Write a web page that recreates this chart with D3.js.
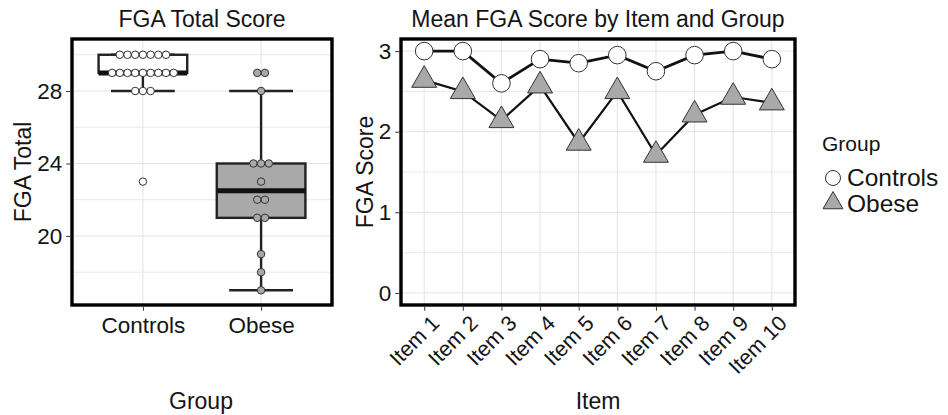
<!DOCTYPE html>
<html>
<head>
<meta charset="utf-8">
<script src="https://cdn.jsdelivr.net/npm/d3@7"></script>
<style>
  html, body { margin: 0; padding: 0; background: #fff; }
  svg { display: block; font-family: "Liberation Sans", Arial, sans-serif; }
</style>
</head>
<body>
<svg id="chart" width="948" height="415"></svg>
<script>
// ---------------- data ----------------
const groups = ["Controls", "Obese"];
const controlsScores = [30,30,30,30,30,30,30, 29,29,29,29,29,29,29,29,29, 28,28,28, 23];
const obeseScores = [29,29, 28, 24,24,24, 23, 22,22, 21,21, 19, 18, 17];
const totalTicks = [20, 24, 28];

const items = ["Item 1","Item 2","Item 3","Item 4","Item 5","Item 6","Item 7","Item 8","Item 9","Item 10"];
const controlsMeans = [3.0, 3.0, 2.6, 2.9, 2.85, 2.95, 2.75, 2.95, 3.0, 2.9];
const obeseMeans = [2.64, 2.5, 2.14, 2.57, 1.86, 2.5, 1.71, 2.21, 2.43, 2.36];
const scoreTicks = [0, 1, 2, 3];

const groupFill = { Controls: "#ffffff", Obese: "#a9a9a9" };

// ---------------- layout ----------------
const svg = d3.select("#chart");
const FS = 22.5;     // tick labels
const TFS = 23;      // titles
const L = { x0: 72, x1: 332, y0: 39, y1: 305 };
const R = { x0: 401, x1: 795, y0: 39, y1: 305 };
const gridColor = "#e3e3e3";
const txt = "#141414";

// ---------------- left panel: boxplot + dotplot ----------------
const stepL = (L.x1 - L.x0) / (groups.length - 1 + 1.2);
const xPosL = d3.scalePoint().domain(groups).range([L.x0 + 0.6 * stepL, L.x1 - 0.6 * stepL]);
const yL = d3.scaleLinear().domain([16.19, 30.87]).range([L.y1, L.y0]);

const gL = svg.append("g");
const minorL = [18, 22, 26, 30];
gL.selectAll(".gmin").data(minorL).join("line")
  .attr("x1", L.x0).attr("x2", L.x1).attr("y1", d => yL(d)).attr("y2", d => yL(d))
  .attr("stroke", gridColor).attr("stroke-width", 0.8);
gL.selectAll(".gmaj").data(totalTicks).join("line")
  .attr("x1", L.x0).attr("x2", L.x1).attr("y1", d => yL(d)).attr("y2", d => yL(d))
  .attr("stroke", gridColor).attr("stroke-width", 1);
gL.selectAll(".gx").data(groups).join("line")
  .attr("x1", d => xPosL(d)).attr("x2", d => xPosL(d)).attr("y1", L.y0).attr("y2", L.y1)
  .attr("stroke", gridColor).attr("stroke-width", 1);

const dataByGroup = { Controls: controlsScores, Obese: obeseScores };
const boxW = 0.75 * stepL;
const capW = 0.54 * stepL;
groups.forEach(g => {
  const vals = dataByGroup[g].slice().sort(d3.ascending);
  const q1 = d3.quantile(vals, 0.25), med = d3.quantile(vals, 0.5), q3 = d3.quantile(vals, 0.75);
  const iqr = q3 - q1;
  const lo = d3.min(vals.filter(v => v >= q1 - 1.5 * iqr));
  const hi = d3.max(vals.filter(v => v <= q3 + 1.5 * iqr));
  const cx = xPosL(g);
  const grp = gL.append("g");
  grp.append("line").attr("x1", cx).attr("x2", cx).attr("y1", yL(q3)).attr("y2", yL(hi))
    .attr("stroke", "#222").attr("stroke-width", 2.4);
  grp.append("line").attr("x1", cx).attr("x2", cx).attr("y1", yL(q1)).attr("y2", yL(lo))
    .attr("stroke", "#222").attr("stroke-width", 2.4);
  [lo, hi].forEach(v => grp.append("line")
    .attr("x1", cx - capW / 2).attr("x2", cx + capW / 2).attr("y1", yL(v)).attr("y2", yL(v))
    .attr("stroke", "#222").attr("stroke-width", 2.4));
  grp.append("rect").attr("x", cx - boxW / 2).attr("width", boxW)
    .attr("y", yL(q3)).attr("height", yL(q1) - yL(q3))
    .attr("fill", groupFill[g]).attr("stroke", "#222").attr("stroke-width", 2.4);
  grp.append("line").attr("x1", cx - boxW / 2).attr("x2", cx + boxW / 2)
    .attr("y1", yL(med)).attr("y2", yL(med)).attr("stroke", "#111").attr("stroke-width", 5);
  const counts = d3.rollups(vals, v => v.length, v => v);
  const dd = 7.7;
  counts.forEach(([v, n]) => {
    for (let i = 0; i < n; i++) {
      grp.append("circle")
        .attr("cx", cx + (i - (n - 1) / 2) * dd).attr("cy", yL(v)).attr("r", dd / 2 - 0.1)
        .attr("fill", groupFill[g]).attr("stroke", "#333").attr("stroke-width", 1);
    }
  });
});
gL.append("rect").attr("x", L.x0).attr("y", L.y0).attr("width", L.x1 - L.x0).attr("height", L.y1 - L.y0)
  .attr("fill", "none").attr("stroke", "#000").attr("stroke-width", 3.4);
const axL = gL.append("g").attr("transform", `translate(${L.x0 - 1.7},0)`)
  .call(d3.axisLeft(yL).tickValues(totalTicks).tickSize(4).tickPadding(4));
const axLB = gL.append("g").attr("transform", `translate(0,${L.y1 + 1.7})`)
  .call(d3.axisBottom(xPosL).tickSize(4).tickPadding(6));
[axL, axLB].forEach(a => {
  a.select(".domain").remove();
  a.selectAll(".tick line").attr("stroke", "#333");
  a.selectAll(".tick text").attr("fill", txt).style("font-size", FS + "px")
    .style("font-family", "Liberation Sans, Arial, sans-serif");
});

svg.append("text").attr("x", (L.x0 + L.x1) / 2).attr("y", 27).attr("text-anchor", "middle")
  .style("font-size", TFS + "px").attr("fill", txt).text("FGA Total Score");
svg.append("text").attr("x", (L.x0 + L.x1) / 2 - 1).attr("y", 409).attr("text-anchor", "middle")
  .style("font-size", TFS + "px").attr("fill", txt).text("Group");
svg.append("text").attr("transform", `translate(31,${(L.y0 + L.y1) / 2}) rotate(-90)`)
  .attr("text-anchor", "middle").style("font-size", TFS + "px").attr("fill", txt).text("FGA Total");

// ---------------- right panel: lines ----------------
const stepR = (R.x1 - R.x0) / (items.length - 1 + 1.2);
const xR = d3.scalePoint().domain(items).range([R.x0 + 0.6 * stepR, R.x1 - 0.6 * stepR]);
const yR = d3.scaleLinear().domain([-0.15, 3.15]).range([R.y1, R.y0]);
const gR = svg.append("g");
const minorR = [0.5, 1.5, 2.5];
gR.selectAll(".gmin").data(minorR).join("line")
  .attr("x1", R.x0).attr("x2", R.x1).attr("y1", d => yR(d)).attr("y2", d => yR(d))
  .attr("stroke", gridColor).attr("stroke-width", 0.8);
gR.selectAll(".gmaj").data(scoreTicks).join("line")
  .attr("x1", R.x0).attr("x2", R.x1).attr("y1", d => yR(d)).attr("y2", d => yR(d))
  .attr("stroke", gridColor).attr("stroke-width", 1);
gR.selectAll(".gx").data(items).join("line")
  .attr("x1", d => xR(d)).attr("x2", d => xR(d)).attr("y1", R.y0).attr("y2", R.y1)
  .attr("stroke", gridColor).attr("stroke-width", 1);

const line = d3.line().x((d, i) => xR(items[i])).y(d => yR(d));
gR.append("path").datum(controlsMeans).attr("d", line).attr("fill", "none")
  .attr("stroke", "#111").attr("stroke-width", 2.8);
gR.append("path").datum(obeseMeans).attr("d", line).attr("fill", "none")
  .attr("stroke", "#111").attr("stroke-width", 2.2);

const triR = 14.4;
function triPath(cx, cy, r) {
  const xc = r * Math.sqrt(3) / 2;
  return `M${cx},${cy - r}L${cx + xc},${cy + r / 2}L${cx - xc},${cy + r / 2}Z`;
}
gR.selectAll(".tri").data(obeseMeans).join("path")
  .attr("d", (d, i) => triPath(xR(items[i]), yR(d), triR))
  .attr("fill", groupFill.Obese).attr("stroke", "#333").attr("stroke-width", 1);
gR.selectAll(".circ").data(controlsMeans).join("circle")
  .attr("cx", (d, i) => xR(items[i])).attr("cy", d => yR(d)).attr("r", 8.8)
  .attr("fill", groupFill.Controls).attr("stroke", "#333").attr("stroke-width", 1);

gR.append("rect").attr("x", R.x0).attr("y", R.y0).attr("width", R.x1 - R.x0).attr("height", R.y1 - R.y0)
  .attr("fill", "none").attr("stroke", "#000").attr("stroke-width", 3.4);

const axR = gR.append("g").attr("transform", `translate(${R.x0 - 1.7},0)`)
  .call(d3.axisLeft(yR).tickValues(scoreTicks).tickSize(4).tickPadding(4).tickFormat(d3.format("d")));
const axRB = gR.append("g").attr("transform", `translate(0,${R.y1 + 1.7})`)
  .call(d3.axisBottom(xR).tickSize(4).tickPadding(4));
[axR, axRB].forEach(a => {
  a.select(".domain").remove();
  a.selectAll(".tick line").attr("stroke", "#333");
  a.selectAll(".tick text").attr("fill", txt).style("font-size", FS + "px")
    .style("font-family", "Liberation Sans, Arial, sans-serif");
});
axRB.selectAll(".tick text")
  .attr("text-anchor", "end").attr("dy", "0.72em").attr("y", 0)
  .style("font-size", "21.5px")
  .attr("transform", "translate(5,7) rotate(-45)");

svg.append("text").attr("x", (R.x0 + R.x1) / 2).attr("y", 27).attr("text-anchor", "middle")
  .style("font-size", TFS + "px").attr("fill", txt).text("Mean FGA Score by Item and Group");
svg.append("text").attr("x", (R.x0 + R.x1) / 2).attr("y", 409).attr("text-anchor", "middle")
  .style("font-size", TFS + "px").attr("fill", txt).text("Item");
svg.append("text").attr("transform", `translate(373,${(R.y0 + R.y1) / 2}) rotate(-90)`)
  .attr("text-anchor", "middle").style("font-size", TFS + "px").attr("fill", txt).text("FGA Score");

// ---------------- legend ----------------
const lg = svg.append("g");
lg.append("text").attr("x", 822).attr("y", 151).style("font-size", "21px").attr("fill", txt).text("Group");
lg.append("circle").attr("cx", 833).attr("cy", 178).attr("r", 7.5)
  .attr("fill", groupFill.Controls).attr("stroke", "#333").attr("stroke-width", 1);
lg.append("path").attr("d", triPath(833, 203, 11.5))
  .attr("fill", groupFill.Obese).attr("stroke", "#333").attr("stroke-width", 1);
lg.append("text").attr("x", 847).attr("y", 186).style("font-size", "24.5px").attr("fill", txt).text("Controls");
lg.append("text").attr("x", 847).attr("y", 212).style("font-size", "24.5px").attr("fill", txt).text("Obese");
</script>
</body>
</html>
